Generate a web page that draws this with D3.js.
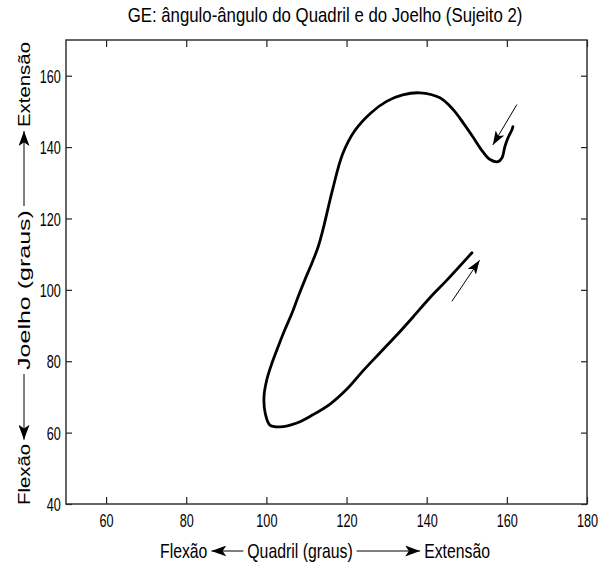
<!DOCTYPE html>
<html>
<head>
<meta charset="utf-8">
<script src="https://cdn.jsdelivr.net/npm/d3@7"></script>
<style>
  body { margin: 0; background: #fff; }
  svg { display: block; }
</style>
</head>
<body>
<script>
// Hip (quadril) vs knee (joelho) angle trace, degrees, in time order
const quadril = [161.5, 161.3, 160.3, 159.5, 158.8, 157.8, 155.8, 154.0, 151.5, 149.1, 146.6, 143.3,
  138.3, 134.0, 130.0, 126.0, 122.0, 119.0, 116.5, 114.1, 112.9, 111.4, 109.6, 107.9, 106.4, 104.6,
  102.9, 101.4, 100.1, 99.4, 99.7, 100.9, 103.4, 107.6, 111.6, 115.9, 120.1, 124.1, 128.3, 132.6,
  136.6, 140.8, 145.1, 151.3];
const joelho = [145.7, 144.9, 142.6, 140.1, 137.0, 135.9, 136.5, 138.7, 142.9, 146.8, 150.5, 153.8,
  155.2, 154.6, 152.8, 149.5, 144.5, 138.0, 128.0, 116.8, 112.0, 107.6, 102.8, 98.0, 93.5, 88.8,
  84.0, 79.5, 74.8, 70.0, 65.5, 62.1, 61.6, 62.7, 65.0, 68.0, 72.2, 77.3, 82.3, 87.4,
  92.4, 97.8, 102.8, 110.4];

// Direction-of-motion arrows: tail -> tip, in data units
const arrowTailX = [162.5, 146.3];
const arrowTailY = [151.9, 96.8];
const arrowTipX = [156.5, 153.2];
const arrowTipY = [140.6, 108.3];

const xTicks = [60, 80, 100, 120, 140, 160, 180];
const yTicks = [40, 60, 80, 100, 120, 140, 160];
const xDomain = [50, 180];
const yDomain = [40, 170];

const title = "GE: ângulo-ângulo do Quadril e do Joelho (Sujeito 2)";
const xLabelParts = ["Flexão", "Quadril (graus)", "Extensão"];
const yLabelParts = ["Flexão", "Joelho (graus)", "Extensão"];

const W = 612, H = 570;
const plotL = 66, plotR = 587, plotT = 40, plotB = 504;
const FONT = "'Liberation Sans', Arial, sans-serif";
const SX = 0.683; // horizontal squeeze of the narrow tick text

const x = d3.scaleLinear().domain(xDomain).range([plotL, plotR]);
const y = d3.scaleLinear().domain(yDomain).range([plotB, plotT]);

const svg = d3.select("body").append("svg")
  .attr("width", W).attr("height", H)
  .style("font-family", FONT);

const defs = svg.append("defs");
function arrowMarker(id, len, wid) {
  defs.append("marker")
    .attr("id", id)
    .attr("viewBox", `0 ${-wid / 2} ${len} ${wid}`)
    .attr("refX", len).attr("refY", 0)
    .attr("markerUnits", "userSpaceOnUse")
    .attr("markerWidth", len).attr("markerHeight", wid)
    .attr("orient", "auto")
    .append("path")
    .attr("d", `M0,${-wid / 2}L${len},0L0,${wid / 2}L${len * 0.25},0Z`)
    .attr("fill", "#000");
}
arrowMarker("headSmall", 14, 10);
arrowMarker("headLabel", 15, 11);

// Trace
const line = d3.line()
  .x((d, i) => x(quadril[i]))
  .y((d, i) => y(joelho[i]))
  .curve(d3.curveCatmullRom.alpha(0.5));

svg.append("path")
  .datum(quadril)
  .attr("d", line)
  .attr("fill", "none")
  .attr("stroke", "#000")
  .attr("stroke-width", 2.8)
  .attr("stroke-linejoin", "round")
  .attr("stroke-linecap", "round");

// Motion arrows
svg.selectAll(".motion").data(arrowTailX).join("line")
  .attr("class", "motion")
  .attr("x1", (d, i) => x(arrowTailX[i]))
  .attr("y1", (d, i) => y(arrowTailY[i]))
  .attr("x2", (d, i) => x(arrowTipX[i]))
  .attr("y2", (d, i) => y(arrowTipY[i]))
  .attr("stroke", "#000").attr("stroke-width", 1)
  .attr("marker-end", "url(#headSmall)");

// Axes with inward ticks on all four sides
const axisColor = "#222";
function styleAxis(g) {
  g.select(".domain").remove();
  g.selectAll(".tick line").attr("stroke", axisColor).attr("stroke-width", 1.2);
}
svg.append("g").attr("transform", `translate(0,${plotB})`)
  .call(d3.axisBottom(x).tickValues(xTicks).tickSizeInner(-7).tickSizeOuter(0).tickPadding(10))
  .call(styleAxis)
  .call(g => g.selectAll("text")
    .attr("font-size", 18.5).attr("font-family", FONT).attr("fill", "#000")
    .attr("transform", `scale(${SX},1)`));
svg.append("g").attr("transform", `translate(0,${plotT})`)
  .call(d3.axisTop(x).tickValues(xTicks).tickSizeInner(-7).tickSizeOuter(0).tickFormat(""))
  .call(styleAxis);
svg.append("g").attr("transform", `translate(${plotL},0)`)
  .call(d3.axisLeft(y).tickValues(yTicks).tickSizeInner(-6).tickSizeOuter(0).tickPadding(7.5))
  .call(styleAxis)
  .call(g => g.selectAll("text")
    .attr("font-size", 18.5).attr("font-family", FONT).attr("fill", "#000")
    .attr("dy", "0.36em")
    .attr("transform", `scale(${SX},1)`));
svg.append("g").attr("transform", `translate(${plotR},0)`)
  .call(d3.axisRight(y).tickValues(yTicks).tickSizeInner(-6).tickSizeOuter(0).tickFormat(""))
  .call(styleAxis);

svg.append("rect")
  .attr("x", plotL).attr("y", plotT)
  .attr("width", plotR - plotL).attr("height", plotB - plotT)
  .attr("fill", "none").attr("stroke", "#333").attr("stroke-width", 1.5);

// Title
svg.append("g").attr("transform", `translate(325,22) scale(0.84,1)`)
  .append("text")
  .attr("text-anchor", "middle")
  .attr("font-size", 20)
  .text(title);

// Horizontal axis label: Flexão <—— Quadril (graus) ——> Extensão
(function () {
  const baseY = 558, fs = 20, sx = 0.79;
  const g = svg.append("g");
  function put(str, px, anchor) {
    const t = g.append("g").attr("transform", `translate(${px},${baseY}) scale(${sx},1)`)
      .append("text").attr("font-size", fs).attr("text-anchor", anchor).text(str);
    return t.node().getComputedTextLength() * sx;
  }
  const startF = 160, endE = 490, centerQ = 300;
  const lenF = put(xLabelParts[0], startF, "start");
  const lenQ = put(xLabelParts[1], centerQ, "middle");
  const lenE = put(xLabelParts[2], endE, "end");
  const midY = baseY - 7;
  g.append("line")
    .attr("x1", centerQ - lenQ / 2 - 4).attr("y1", midY)
    .attr("x2", startF + lenF + 4).attr("y2", midY)
    .attr("stroke", "#000").attr("stroke-width", 1)
    .attr("marker-end", "url(#headLabel)");
  g.append("line")
    .attr("x1", centerQ + lenQ / 2 + 4).attr("y1", midY)
    .attr("x2", endE - lenE - 4).attr("y2", midY)
    .attr("stroke", "#000").attr("stroke-width", 1)
    .attr("marker-end", "url(#headLabel)");
})();

// Vertical axis label, reading bottom to top
(function () {
  const baseX = 30;
  const g = svg.append("g");
  function put(str, py, anchor, len) {
    const t = g.append("g").attr("transform", `translate(${baseX},${py}) rotate(-90)`)
      .append("text").attr("font-size", 17).attr("text-anchor", anchor).text(str);
    const natural = t.node().getComputedTextLength();
    const s = len ? len / natural : 1.2;
    d3.select(t.node().parentNode)
      .attr("transform", `translate(${baseX},${py}) rotate(-90) scale(${s},1)`);
    return natural * s;
  }
  const startF = 505, endE = 42, centerJ = 290;
  const lenF = put(yLabelParts[0], startF, "start");
  const lenJ = put(yLabelParts[1], centerJ, "middle", 160);
  const lenE = put(yLabelParts[2], endE, "end");
  const midX = baseX - 6;
  g.append("line")
    .attr("x1", midX).attr("y1", centerJ + lenJ / 2 + 4)
    .attr("x2", midX).attr("y2", startF - lenF - 4)
    .attr("stroke", "#000").attr("stroke-width", 1)
    .attr("marker-end", "url(#headLabel)");
  g.append("line")
    .attr("x1", midX).attr("y1", centerJ - lenJ / 2 - 4)
    .attr("x2", midX).attr("y2", endE + lenE + 4)
    .attr("stroke", "#000").attr("stroke-width", 1)
    .attr("marker-end", "url(#headLabel)");
})();
</script>
</body>
</html>
